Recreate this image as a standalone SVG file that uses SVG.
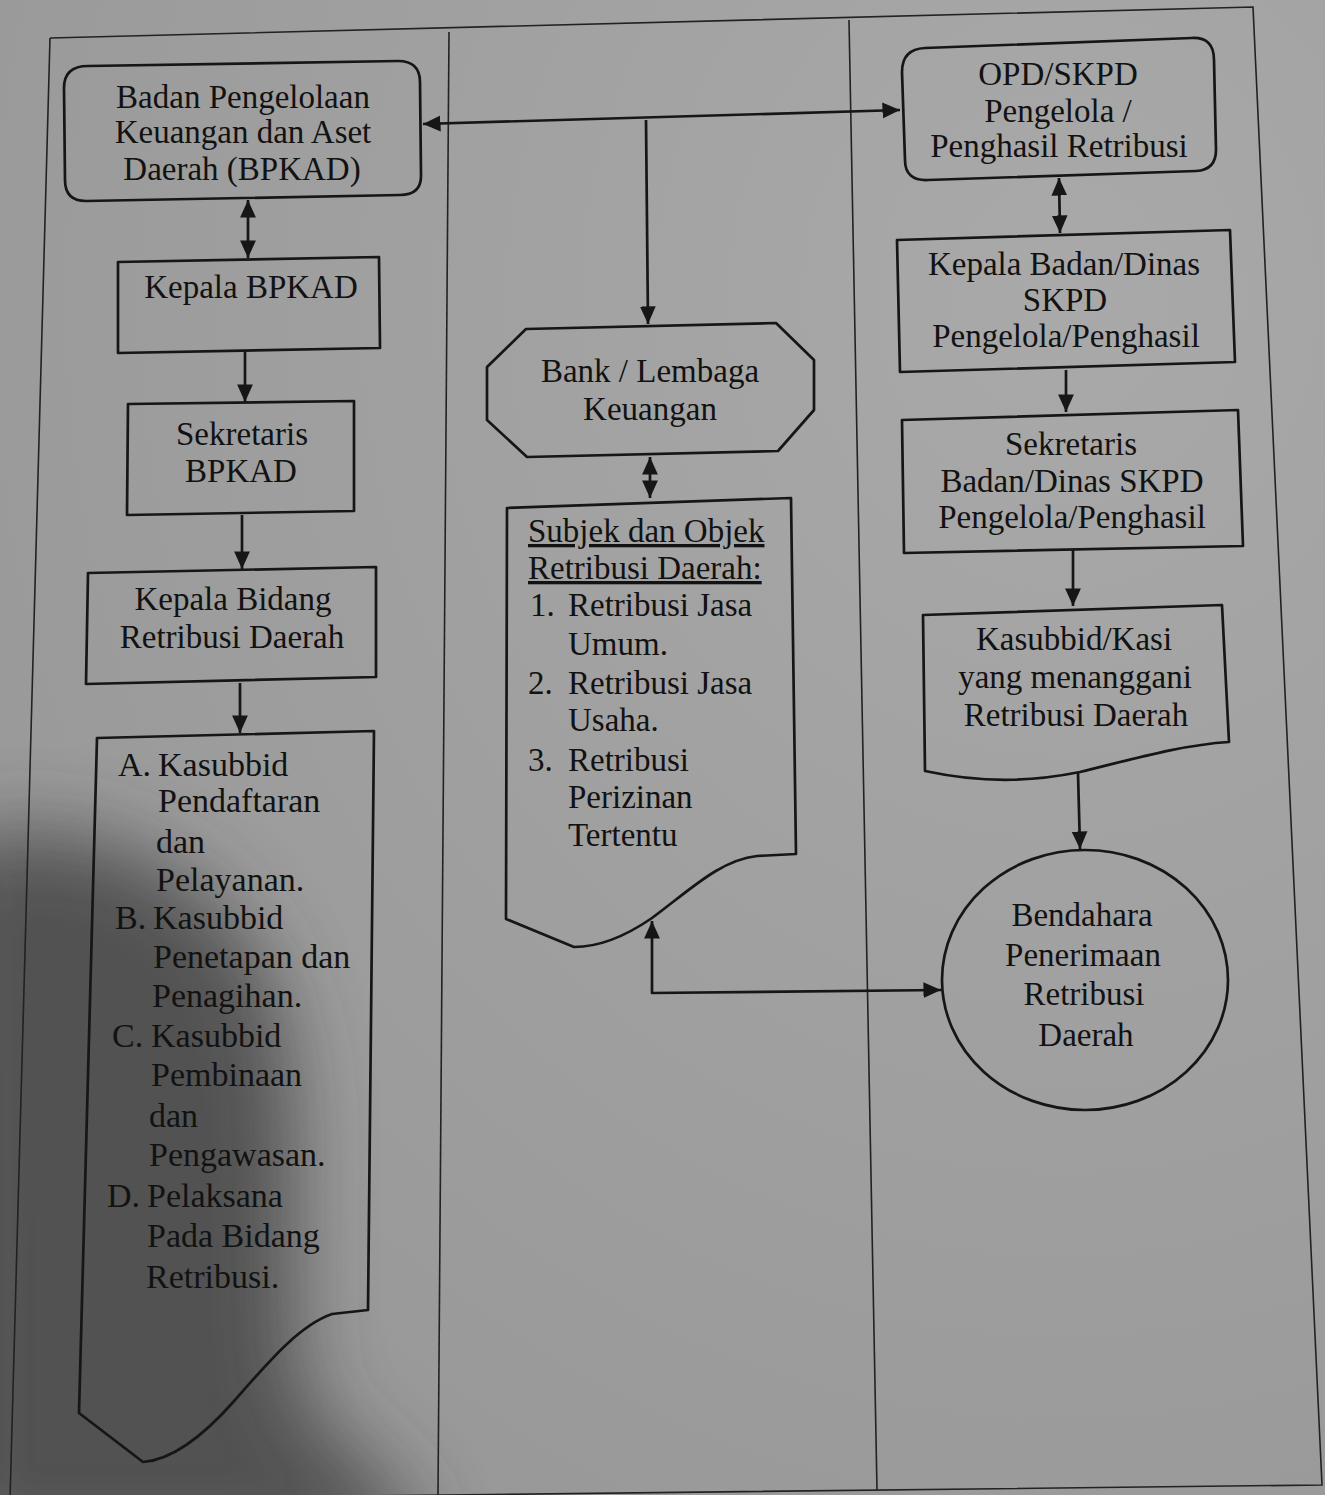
<svg xmlns="http://www.w3.org/2000/svg" width="1325" height="1495" viewBox="0 0 1325 1495">
<defs>
<style>
.ln{fill:none;stroke:#161616;stroke-width:2.7;stroke-linejoin:round}
.sh{fill:none;stroke:#161616;stroke-width:2.7;stroke-linejoin:round}
.thin{fill:none;stroke:#222;stroke-width:1.6}
text{font-family:"Liberation Serif","Times New Roman",serif;font-size:33px;fill:#121212}
.c{text-anchor:middle}
.big{font-size:34px}
</style>
<marker id="ah" viewBox="0 0 10 10" refX="10" refY="5" markerWidth="6.5" markerHeight="6.5" markerUnits="strokeWidth" orient="auto-start-reverse">
<path d="M0,0.5 L10,5 L0,9.5 z" fill="#161616"/>
</marker>
<radialGradient id="light" cx="0.8" cy="0.2" r="1">
<stop offset="0" stop-color="#a9a9a9"/>
<stop offset="1" stop-color="#979797"/>
</radialGradient>
<filter id="blur" x="-50%" y="-50%" width="200%" height="200%"><feGaussianBlur stdDeviation="40"/></filter>
</defs>
<rect width="1325" height="1495" fill="url(#light)"/>
<path d="M-60,850 C60,800 200,860 260,960 C320,1080 280,1260 300,1380 C320,1460 420,1470 420,1560 L-60,1560 z" fill="#3a3a3a" opacity="0.75" filter="url(#blur)"/>

<g id="frame">
<path class="thin" d="M50,38 L1253,7 L1322,1485 L10,1500"/>
<path class="thin" d="M50,38 L10,1500"/>
<path class="thin" d="M449,32 L438,1495"/>
<path class="thin" d="M849,20 L877,1490"/>
</g>

<g id="connectors">
<path class="ln" d="M423,124 L900,110" marker-start="url(#ah)" marker-end="url(#ah)"/>
<path class="ln" d="M646,120 L648,324" marker-end="url(#ah)"/>
<path class="ln" d="M248,200 L248,258" marker-start="url(#ah)" marker-end="url(#ah)"/>
<path class="ln" d="M245,352 L245,402" marker-end="url(#ah)"/>
<path class="ln" d="M242,515 L242,569" marker-end="url(#ah)"/>
<path class="ln" d="M240,683 L240,733" marker-end="url(#ah)"/>
<path class="ln" d="M650,457 L650,498" marker-start="url(#ah)" marker-end="url(#ah)"/>
<path class="ln" d="M652,921 L652,993 L941,990" marker-start="url(#ah)" marker-end="url(#ah)"/>
<path class="ln" d="M1059,178 L1060,233" marker-start="url(#ah)" marker-end="url(#ah)"/>
<path class="ln" d="M1066,370 L1066,412" marker-end="url(#ah)"/>
<path class="ln" d="M1073,550 L1073,606" marker-end="url(#ah)"/>
<path class="ln" d="M1078,773 L1080,849" marker-end="url(#ah)"/>
</g>

<g id="bpkad">
<path class="sh" d="M88,66 L398,61 Q420,61 420,82 L421,176 Q421,195 400,195 L86,201 Q65,201 65,180 L64,88 Q64,66 88,66 z"/>
<text class="c" x="243" y="108">Badan Pengelolaan</text>
<text class="c" x="243" y="143">Keuangan dan Aset</text>
<text class="c" x="242" y="180">Daerah (BPKAD)</text>
</g>

<g id="kepala-bpkad">
<path class="sh" d="M118,262 L379,257 L380,348 L118,353 z"/>
<text class="c" x="251" y="298">Kepala BPKAD</text>
</g>

<g id="sekretaris-bpkad">
<path class="sh" d="M128,404 L354,401 L354,511 L127,515 z"/>
<text class="c" x="242" y="445">Sekretaris</text>
<text class="c" x="241" y="482">BPKAD</text>
</g>

<g id="kepala-bidang">
<path class="sh" d="M88,573 L376,567 L376,677 L86,684 z"/>
<text class="c" x="233" y="610">Kepala Bidang</text>
<text class="c" x="232" y="648">Retribusi Daerah</text>
</g>

<g id="kasubbid-list">
<path class="sh" d="M97,738 L374,731 L368,1310 L332,1314 C300,1325 270,1360 235,1400 C200,1440 170,1460 143,1462 L79,1413 z"/>
<text class="big" x="118" y="776">A.</text><text class="big" x="158" y="776">Kasubbid</text>
<text class="big" x="158" y="812">Pendaftaran</text>
<text class="big" x="156" y="853">dan</text>
<text class="big" x="156" y="891">Pelayanan.</text>
<text class="big" x="115" y="929">B.</text><text class="big" x="153" y="929">Kasubbid</text>
<text class="big" x="153" y="968">Penetapan dan</text>
<text class="big" x="152" y="1007">Penagihan.</text>
<text class="big" x="112" y="1047">C.</text><text class="big" x="151" y="1047">Kasubbid</text>
<text class="big" x="151" y="1086">Pembinaan</text>
<text class="big" x="149" y="1127">dan</text>
<text class="big" x="149" y="1166">Pengawasan.</text>
<text class="big" x="107" y="1207">D.</text><text class="big" x="147" y="1207">Pelaksana</text>
<text class="big" x="147" y="1247">Pada Bidang</text>
<text class="big" x="146" y="1288">Retribusi.</text>
</g>

<g id="bank">
<path class="sh" d="M526,329 L776,323 L814,360 L814,410 L778,451 L527,457 L487,420 L487,367 z"/>
<text class="c" x="650" y="382">Bank / Lembaga</text>
<text class="c" x="650" y="420">Keuangan</text>
</g>

<g id="subjek-objek">
<path class="sh" d="M507,508 L791,498 L796,854 L757,856 C720,860 690,890 652,918 C620,940 595,947 574,947 L506,919 z"/>
<text x="528" y="542" text-decoration="underline">Subjek dan Objek</text>
<text x="528" y="579" text-decoration="underline">Retribusi Daerah:</text>
<text x="530" y="616">1.</text><text x="568" y="616">Retribusi Jasa</text>
<text x="568" y="655">Umum.</text>
<text x="528" y="694">2.</text><text x="568" y="694">Retribusi Jasa</text>
<text x="568" y="731">Usaha.</text>
<text x="528" y="771">3.</text><text x="568" y="771">Retribusi</text>
<text x="568" y="808">Perizinan</text>
<text x="568" y="846">Tertentu</text>
</g>

<g id="opd">
<path class="sh" d="M925,48 L1192,38 Q1214,37 1214,60 L1216,150 Q1216,170 1196,171 L928,180 Q905,181 905,160 L902,72 Q902,49 925,48 z"/>
<text class="c" x="1058" y="85">OPD/SKPD</text>
<text class="c" x="1058" y="122">Pengelola /</text>
<text class="c" x="1059" y="157">Penghasil Retribusi</text>
</g>

<g id="kepala-dinas">
<path class="sh" d="M897,240 L1230,230 L1235,362 L900,372 z"/>
<text class="c" x="1064" y="275">Kepala Badan/Dinas</text>
<text class="c" x="1065" y="311">SKPD</text>
<text class="c" x="1066" y="347">Pengelola/Penghasil</text>
</g>

<g id="sekretaris-dinas">
<path class="sh" d="M902,420 L1238,410 L1243,546 L904,553 z"/>
<text class="c" x="1071" y="455">Sekretaris</text>
<text class="c" x="1072" y="492">Badan/Dinas SKPD</text>
<text class="c" x="1072" y="528">Pengelola/Penghasil</text>
</g>

<g id="kasubbid-kasi">
<path class="sh" d="M923,615 L1222,605 L1229,742 C1180,745 1130,760 1080,772 C1040,780 990,785 925,771 z"/>
<text class="c" x="1074" y="650">Kasubbid/Kasi</text>
<text class="c" x="1075" y="688">yang menanggani</text>
<text class="c" x="1076" y="726">Retribusi Daerah</text>
</g>

<g id="bendahara">
<ellipse class="sh" cx="1085" cy="980" rx="143" ry="130"/>
<text class="c" x="1082" y="926">Bendahara</text>
<text class="c" x="1083" y="966">Penerimaan</text>
<text class="c" x="1084" y="1005">Retribusi</text>
<text class="c" x="1086" y="1046">Daerah</text>
</g>
</svg>
